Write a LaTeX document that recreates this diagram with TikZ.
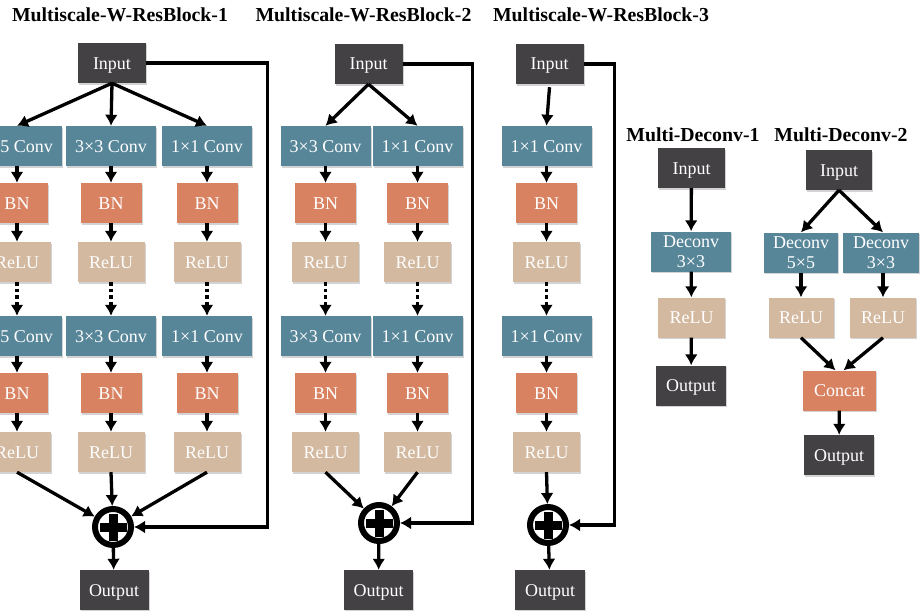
\documentclass[tikz,border=0pt]{standalone}
\usepackage{fontspec}
\setmainfont{Liberation Serif}
\usetikzlibrary{arrows.meta,shadows}

\definecolor{boxdark}{RGB}{68,65,68}
\definecolor{convblue}{RGB}{88,134,153}
\definecolor{bnorange}{RGB}{217,130,98}
\definecolor{relutan}{RGB}{211,185,160}

\begin{document}
\begin{tikzpicture}[
    x=1pt, y=-1pt,
    >={Latex[length=11pt,width=13pt]},
    % Styles
    block/.style={
      rectangle,
      text=white,
      minimum height=40pt,
      text height=14pt,
      text depth=2pt,
      inner sep=1pt,
      align=center,
      font=\fontsize{18}{20}\selectfont,
      drop shadow={shadow xshift=1pt, shadow yshift=-1.5pt, opacity=0.35, fill=gray},
    },
    io/.style={block, fill=boxdark, minimum width=68pt},
    conv/.style={block, fill=convblue, minimum width=90pt},
    deconv/.style={conv, text height=, text depth=, yshift=-1.5pt},
    bn/.style={block, fill=bnorange, minimum width=61pt},
    relu/.style={block, fill=relutan, minimum width=67pt},
    title/.style={font=\fontsize{19.8}{24}\selectfont\bfseries},
    sum/.style={
      circle, draw, line width=6pt, fill=white,
      minimum size=36pt, inner sep=0pt,
      path picture={
        \fill[black] ([shift={(-13.5pt,-4.5pt)}]path picture bounding box.center) rectangle ([shift={(13.5pt,4.5pt)}]path picture bounding box.center);
        \fill[black] ([shift={(-4.5pt,-13.5pt)}]path picture bounding box.center) rectangle ([shift={(4.5pt,13.5pt)}]path picture bounding box.center);
      },
    },
    flow/.style={->, line width=3.3pt},
    dots/.style={flow, dash pattern=on 3.3pt off 3.3pt},
  ]
  \useasboundingbox (0,0) rectangle (920,610);
  \clip (0,0) rectangle (920,610);

  % Multiscale-W-ResBlocks
  \node[title] (titleA) at (120,15) {Multiscale-W-ResBlock-1};
  \node[title] (titleB) at (363.5,15) {Multiscale-W-ResBlock-2};
  \node[title] (titleC) at (601,15) {Multiscale-W-ResBlock-3};
  \node[io] (inA) at (112,63) {Input};
  \node[io] (inB) at (368.5,64) {Input};
  \node[io] (inC) at (549.5,64) {Input};

  \foreach \name/\xpos/\ks in {A1/17/5, A2/111/3, A3/207/1, B1/325.5/3, B2/417.5/1, C1/546.5/1} {
    \node[conv] (c1\name) at (\xpos,146) {\ks×\ks{} Conv};
    \node[bn] (b1\name) at (\xpos,203) {BN};
    \node[relu] (r1\name) at (\xpos,262) {ReLU};
    \node[conv] (c2\name) at (\xpos,336) {\ks×\ks{} Conv};
    \node[bn] (b2\name) at (\xpos,393) {BN};
    \node[relu] (r2\name) at (\xpos,452) {ReLU};
    \draw[flow] (c1\name) -- (b1\name);
    \draw[flow] (b1\name) -- (r1\name);
    \draw[dots] (r1\name) -- (c2\name);
    \draw[flow] (c2\name) -- (b2\name);
    \draw[flow] (b2\name) -- (r2\name);
  }

  \node[sum] (plusA) at (113,527) {};
  \node[sum] (plusB) at (379,523) {};
  \node[sum] (plusC) at (548,525) {};
  \node[io, minimum width=69pt] (outA) at (114,590) {Output};
  \node[io, minimum width=69pt] (outB) at (378.5,590) {Output};
  \node[io, minimum width=70pt] (outC) at (550,590) {Output};

  \foreach \col in {A1,A2,A3} {
    \draw[flow] (inA.south) -- (c1\col.north);
    \draw[flow] (r2\col.south) -- (plusA);
  }
  \foreach \col in {B1,B2} {
    \draw[flow] (inB.south) -- (c1\col.north);
    \draw[flow] (r2\col.south) -- (plusB);
  }
  \draw[flow] ([yshift=-3pt]inC.south) -- (c1C1.north);
  \draw[flow] (r2C1.south) -- (plusC);

  \draw[flow] (inA.east) -- ++(121,0) |- (plusA.east);
  \draw[flow] (inB.east) -- ++(70,0) |- (plusB.east);
  \draw[flow] (inC.east) -- ++(31,0) |- (plusC.east);
  \draw[flow] (plusA) -- (outA);
  \draw[flow] (plusB) -- (outB);
  \draw[flow] (plusC) -- (outC);

  % Multi-Deconv-1
  \node[title] (titleD) at (693,135) {Multi-Deconv-1};
  \node[io, minimum width=67pt] (inD) at (691.5,168) {Input};
  \node[deconv, minimum width=80pt] (dcD) at (691,250) {Deconv\\3×3};
  \node[relu] (rD) at (691.5,317.5) {ReLU};
  \node[io, minimum width=70pt] (outD) at (691,385.5) {Output};
  \draw[flow] (inD) -- (dcD);
  \draw[flow] (dcD) -- (rD);
  \draw[flow] (rD) -- (outD);

  % Multi-Deconv-2
  \node[title] (titleE) at (841,135) {Multi-Deconv-2};
  \node[io, minimum width=66pt] (inE) at (839,170) {Input};
  \node[deconv, minimum width=74pt] (dcE1) at (801,251) {Deconv\\5×5};
  \node[deconv, minimum width=76pt] (dcE2) at (881,251) {Deconv\\3×3};
  \node[relu, minimum width=65pt] (rE1) at (801,317.5) {ReLU};
  \node[relu, minimum width=66pt] (rE2) at (883,317.5) {ReLU};
  \node[bn, minimum width=73pt] (cat) at (839.5,390.5) {Concat};
  \node[io, minimum width=70pt] (outE) at (839,455) {Output};
  \draw[flow] (inE.south) -- (dcE1.north);
  \draw[flow] (inE.south) -- ([xshift=2pt]dcE2.north);
  \draw[flow] (dcE1) -- (rE1.north -| dcE1);
  \draw[flow] ([xshift=2pt]dcE2.south) -- ([xshift=2pt]dcE2.south |- rE2.north);
  \draw[flow] (rE1.south) -- ([xshift=-4pt]cat.north);
  \draw[flow] (rE2.south) -- ([xshift=4pt]cat.north);
  \draw[flow] (cat) -- (outE);
\end{tikzpicture}
\end{document}
